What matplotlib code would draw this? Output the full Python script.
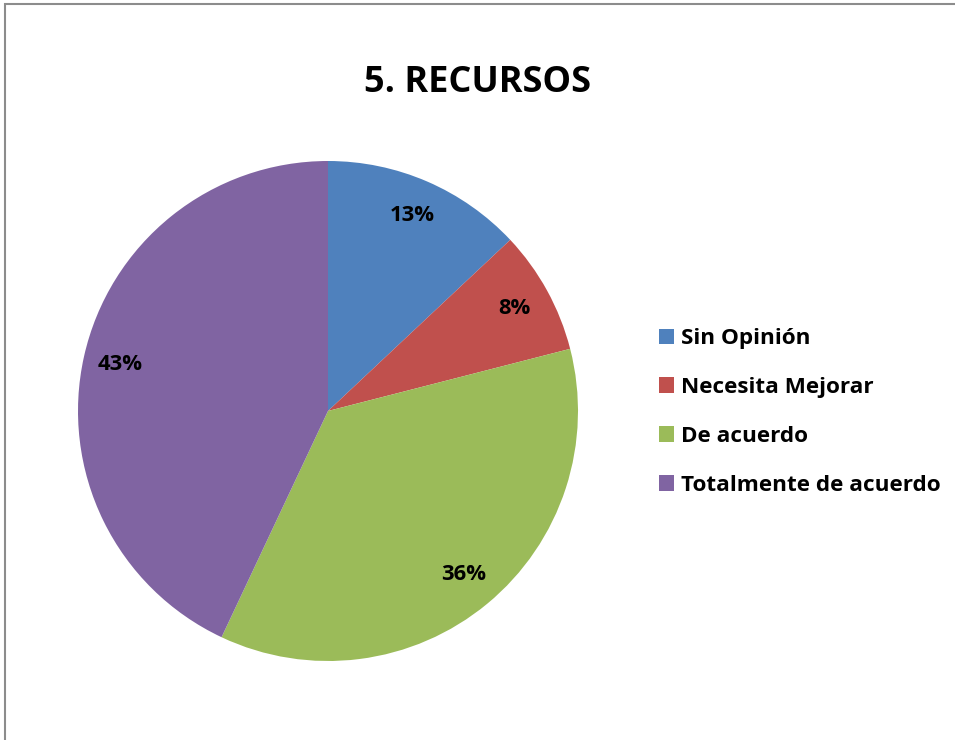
import matplotlib.pyplot as plt
from matplotlib.patches import Rectangle

# datos de la encuesta
categorias = ['Sin Opinión', 'Necesita Mejorar', 'De acuerdo', 'Totalmente de acuerdo']
porcentajes = [13, 8, 36, 43]
colores = ['#4F81BD', '#C0504D', '#9BBB59', '#8064A2']
titulo = '5. RECURSOS'

plt.rcParams['font.family'] = ['Open Sans', 'DejaVu Sans']

W, H = 955, 740
fig = plt.figure(figsize=(W / 100, H / 100), dpi=100, facecolor='white')

# marco gris del grafico
fig.patches.append(Rectangle((5 / W, -0.1), 1.2, (H - 4) / H + 0.1,
                             transform=fig.transFigure, fill=False,
                             edgecolor='#8c8c8c', lw=1.5))

cx, cy, r = 328, 411, 250
ax = fig.add_axes([(cx - r) / W, (H - cy - r) / H, 2 * r / W, 2 * r / H])
wedges, _, autotexts = ax.pie(porcentajes, colors=colores, startangle=90,
                              counterclock=False, autopct='%d%%',
                              pctdistance=0.85, radius=1,
                              wedgeprops=dict(linewidth=0))
for t in autotexts:
    t.set_fontsize(15.8)
    t.set_fontweight('bold')
    t.set_color('black')
ax.set_xlim(-1, 1)
ax.set_ylim(-1, 1)
ax.set_aspect('equal')
ax.axis('off')

fig.text(477 / W, 1 - 83 / H, titulo, ha='center', va='center',
         fontsize=26, fontweight='bold')

leg = fig.legend(wedges, categorias, loc='center left',
                 bbox_to_anchor=(659 / W, 1 - 412 / H), frameon=False,
                 prop=dict(size=16.2, weight='bold'),
                 handlelength=0.68, handleheight=0.68, handletextpad=0.3,
                 labelspacing=1.24, borderpad=0, borderaxespad=0)

fig.savefig('out.png', dpi=100, facecolor='white')
